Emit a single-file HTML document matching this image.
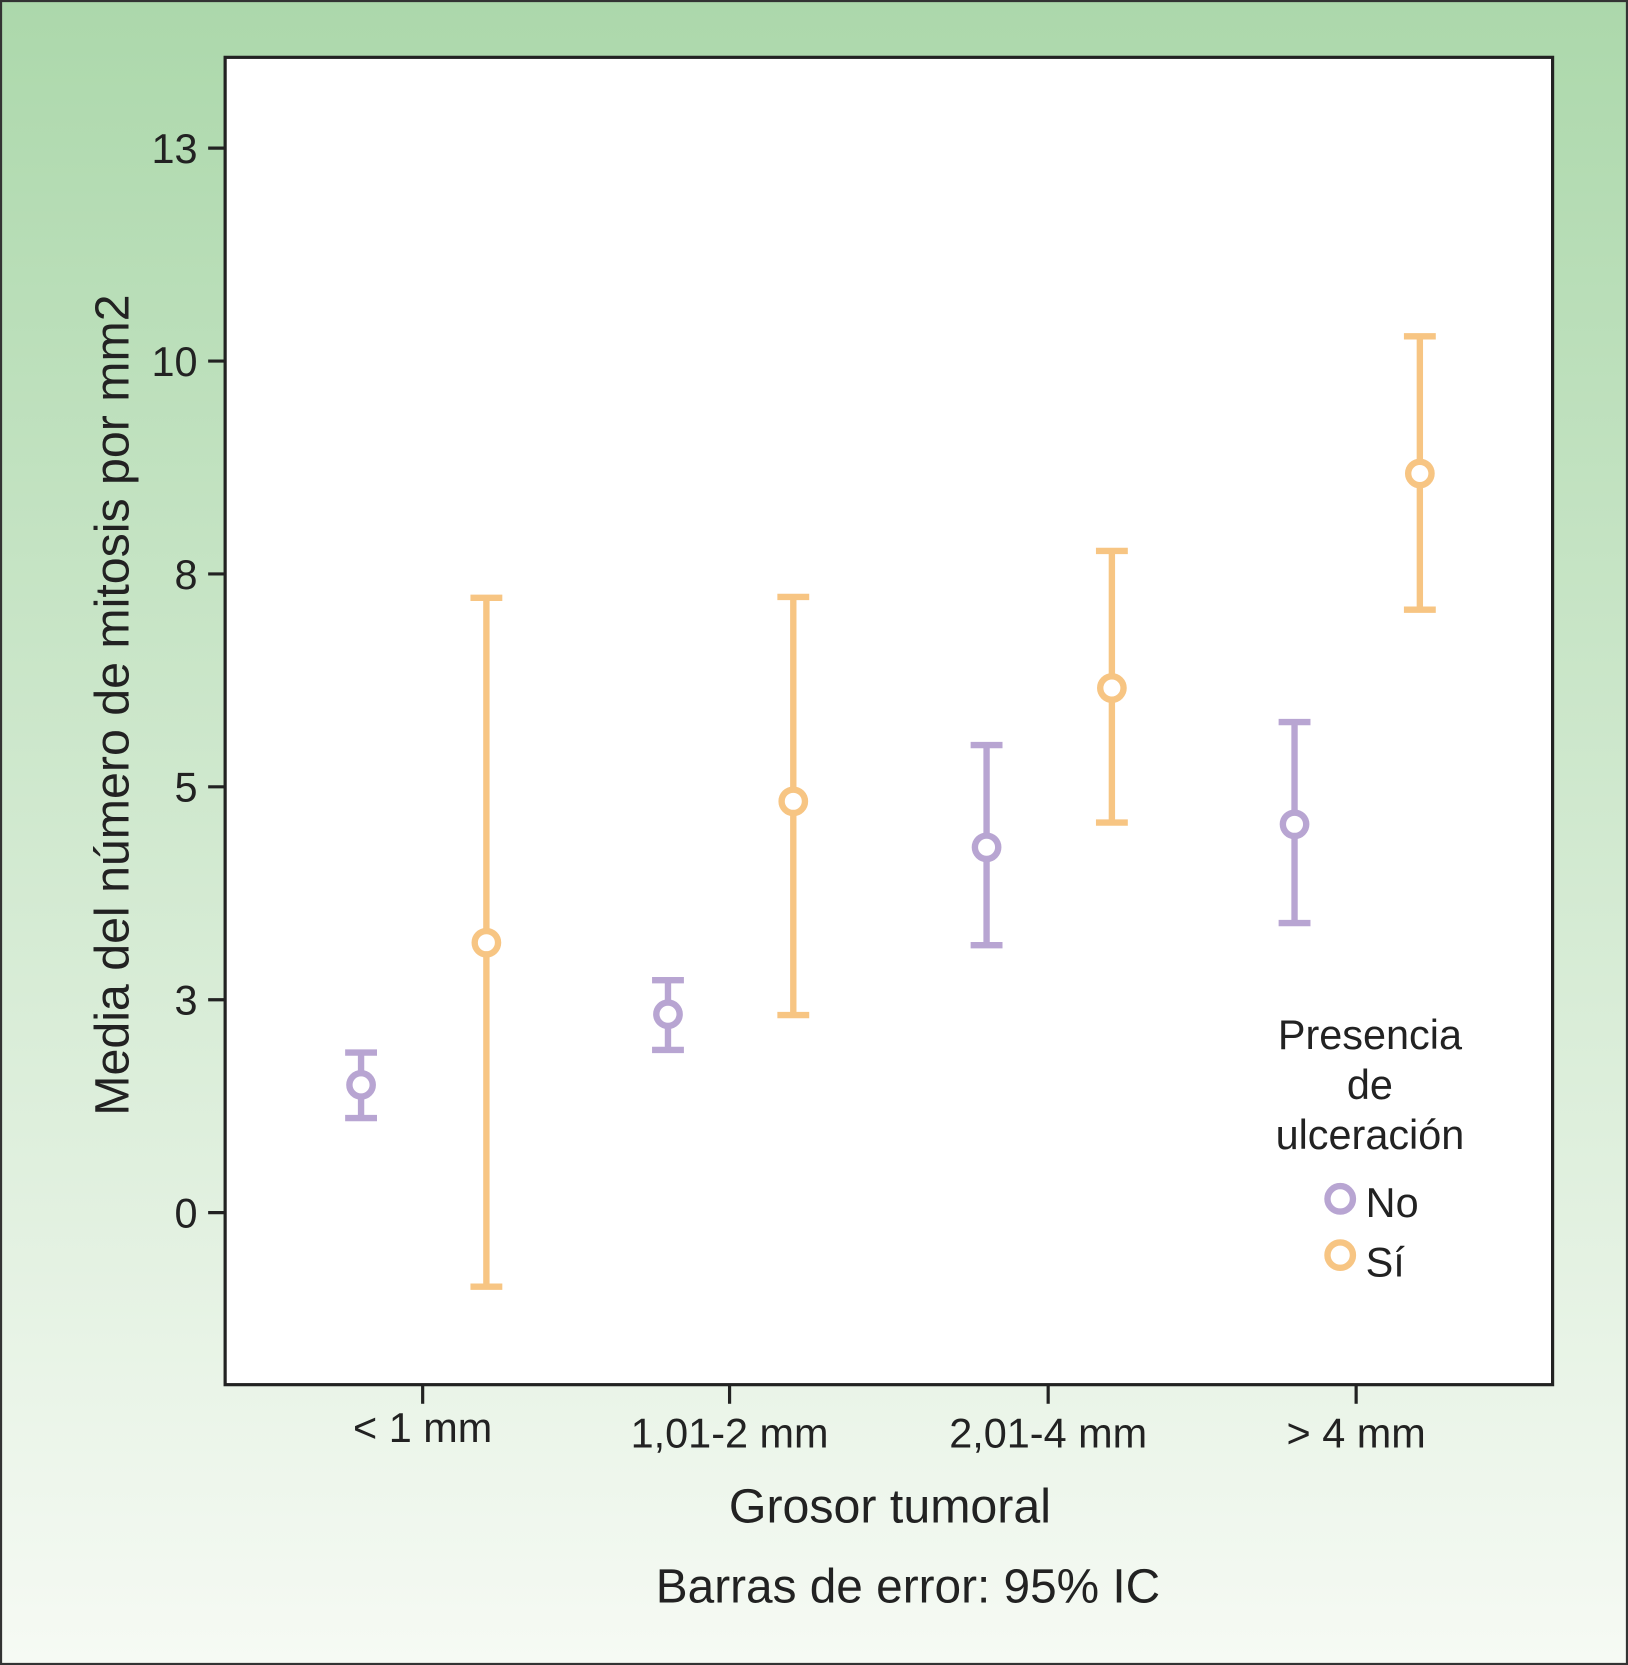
<!DOCTYPE html>
<html><head><meta charset="utf-8"><style>
html,body{margin:0;padding:0;}
body{width:1628px;height:1665px;overflow:hidden;}
svg{display:block;font-family:"Liberation Sans",sans-serif;}
</style></head><body>
<svg id="chart" width="1628" height="1665" viewBox="0 0 1533 1568" preserveAspectRatio="none" xmlns="http://www.w3.org/2000/svg">
<defs><linearGradient id="bg" x1="0" y1="0" x2="0" y2="1"><stop offset="0" stop-color="#acd8ab"/><stop offset="1" stop-color="#f6faf4"/></linearGradient></defs>
<rect x="1" y="1" width="1531" height="1566" fill="url(#bg)" stroke="#333" stroke-width="2"/>
<rect x="212" y="54" width="1250" height="1250" fill="#fff" stroke="#222" stroke-width="3"/>
<g id="yaxis"></g><g id="xaxis"></g><g id="marks"></g>
<text transform="translate(121,664) rotate(-90)" text-anchor="middle" font-size="45.5" fill="#222">Media del número de mitosis por mm2</text>
<text x="838" y="1434" text-anchor="middle" font-size="45.5" fill="#222">Grosor tumoral</text>
<text x="855" y="1509" text-anchor="middle" font-size="45" fill="#222">Barras de error: 95% IC</text>
<g font-size="39" fill="#222">
<text x="1290" y="988" text-anchor="middle">Presencia</text>
<text x="1290" y="1035" text-anchor="middle">de</text>
<text x="1290" y="1082" text-anchor="middle">ulceración</text>
<circle cx="1262" cy="1129" r="12" fill="none" stroke="#b8a5d2" stroke-width="6"/>
<text x="1286" y="1146">No</text>
<circle cx="1262" cy="1182" r="12" fill="none" stroke="#f7c583" stroke-width="6"/>
<text x="1286" y="1202">Sí</text>
</g>
</svg>
<script>
const categories = ["< 1 mm", "1,01-2 mm", "2,01-4 mm", "> 4 mm"];
const yTickValues = [0, 2.5, 5, 7.5, 10, 12.5];
const yTickLabels = ["0", "3", "5", "8", "10", "13"];
const noMean = [1.50, 2.33, 4.29, 4.56];
const noLow = [1.11, 1.91, 3.14, 3.40];
const noHigh = [1.88, 2.73, 5.49, 5.76];
const siMean = [3.17, 4.83, 6.16, 8.68];
const siLow = [-0.87, 2.32, 4.58, 7.08];
const siHigh = [7.22, 7.23, 7.77, 10.29];

const NS = "http://www.w3.org/2000/svg";
const catX = [398, 687, 987, 1277];
function yS(v){ return 1142 - v * 80.2; }
function mk(tag, attrs, parent){ const e=document.createElementNS(NS,tag); for(const k in attrs) e.setAttribute(k,attrs[k]); parent.appendChild(e); return e; }
const ya=document.getElementById('yaxis'), xa=document.getElementById('xaxis'), mg=document.getElementById('marks');
yTickValues.forEach((v,i)=>{
  const t=mk('line',{x1:196,x2:212,y1:yS(v),y2:yS(v),stroke:'#222','stroke-width':3},ya);
  
  
  const l=mk('text',{x:186,y:yS(v)+14,'text-anchor':'end','font-size':39,fill:'#222'},ya);
  l.textContent=yTickLabels[i];
  
  
});
categories.forEach((c,i)=>{
  const t=mk('line',{x1:catX[i],x2:catX[i],y1:1304,y2:1322,stroke:'#222','stroke-width':3},xa);
  
  
  const l=mk('text',{x:catX[i],y:i==0?1358:1363,'text-anchor':'middle','font-size':39,fill:'#222'},xa);
  l.textContent=c;
  
  
});
function series(mean,low,high,off,color,name){
  mean.forEach((m,i)=>{
    const x=catX[i]+off;
    const g=mk('g',{},mg);
    
    
    mk('line',{x1:x,x2:x,y1:yS(high[i]),y2:yS(low[i]),stroke:color,'stroke-width':6},g);
    mk('line',{x1:x-15,x2:x+15,y1:yS(high[i]),y2:yS(high[i]),stroke:color,'stroke-width':6},g);
    mk('line',{x1:x-15,x2:x+15,y1:yS(low[i]),y2:yS(low[i]),stroke:color,'stroke-width':6},g);
    const c=mk('circle',{cx:x,cy:yS(m),r:11,fill:'#fff',stroke:color,'stroke-width':6},mg);
    
    
  });
}
series(noMean,noLow,noHigh,-58,'#b8a5d2','no');
series(siMean,siLow,siHigh,60,'#f7c583','si');
</script>
</body></html>
